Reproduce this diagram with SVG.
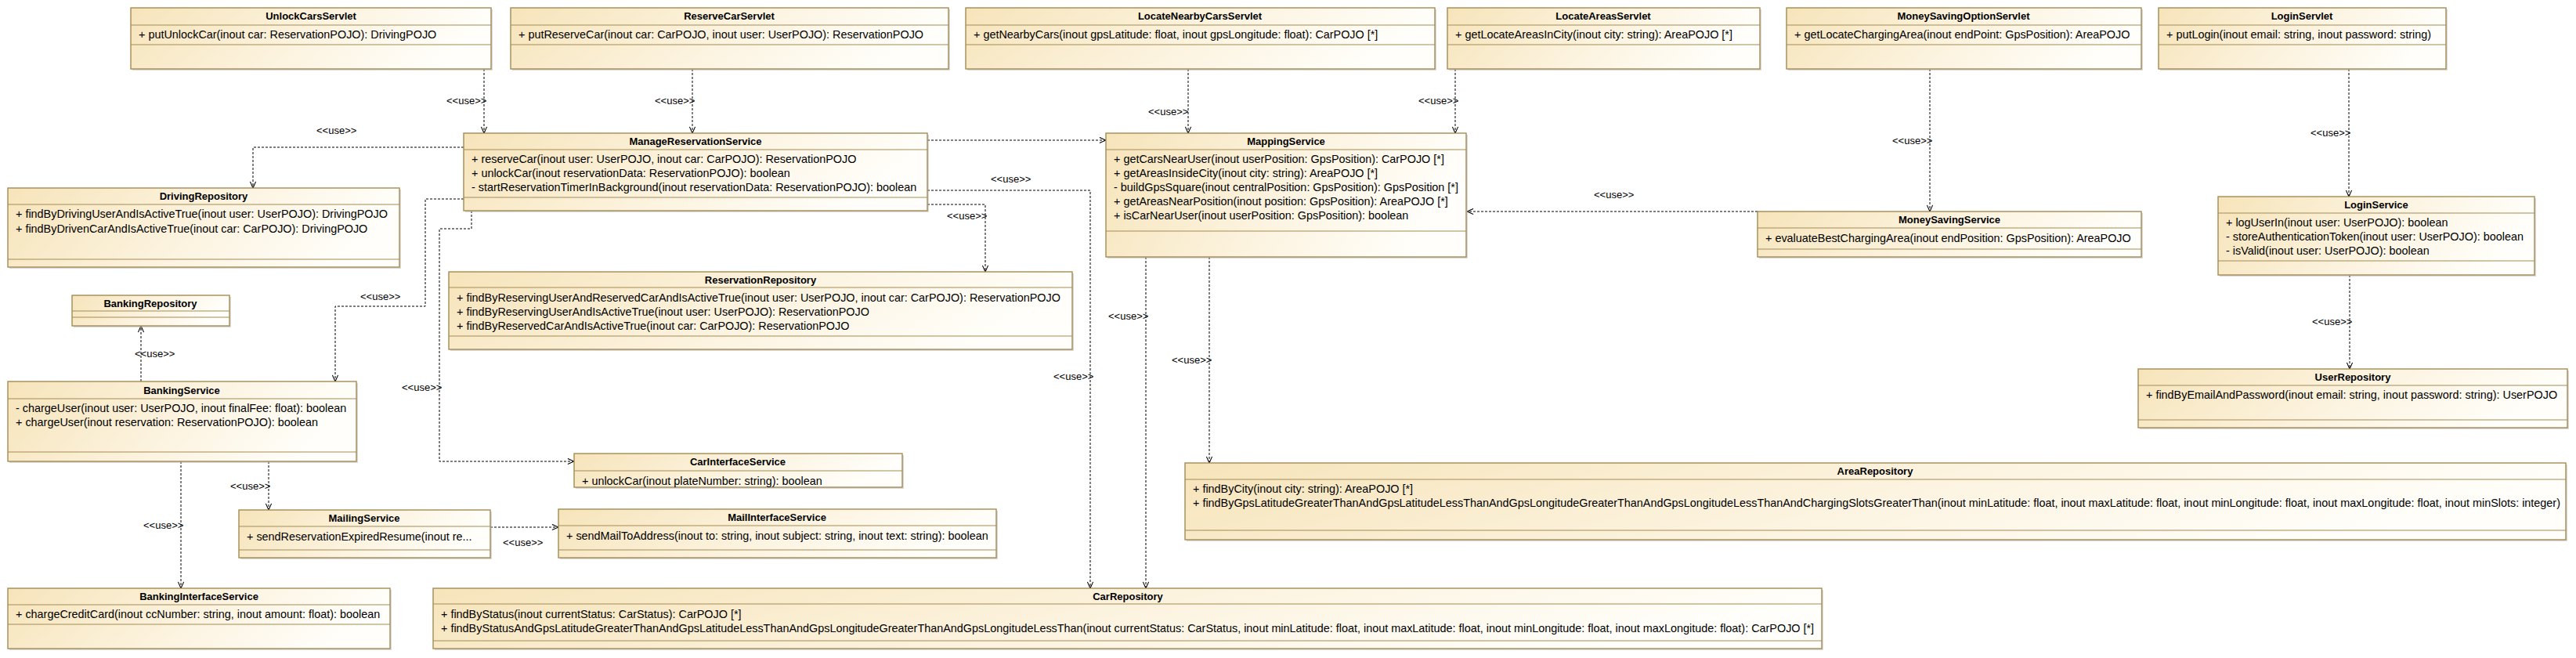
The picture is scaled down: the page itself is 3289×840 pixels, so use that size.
<svg xmlns="http://www.w3.org/2000/svg" width="3289" height="840" viewBox="0 0 3289 840">
<style>
.box{fill:url(#boxfill);stroke:#a38b55;stroke-width:1.4}
.sh{fill:#bdbdbd;opacity:0.55}
.dv{stroke:#a38b55;stroke-width:1.2}
.t{font-family:"Liberation Sans",Arial,sans-serif;font-size:13px;font-weight:bold;text-anchor:middle;fill:#000}
.m{font-family:"Liberation Sans",Arial,sans-serif;font-size:14.4px;fill:#000}
.l{font-family:"Liberation Sans",Arial,sans-serif;font-size:13px;fill:#000}
.c{fill:none;stroke:#000;stroke-width:1;stroke-dasharray:3,2;marker-end:url(#arr)}
</style>
<defs>
<linearGradient id="boxfill" x1="0" y1="0" x2="1" y2="0.2">
<stop offset="0" stop-color="#f6e4ba"/>
<stop offset="0.55" stop-color="#fcf3df"/>
<stop offset="1" stop-color="#fffefa"/>
</linearGradient>
<marker id="arr" viewBox="0 0 10 10" refX="10" refY="5" markerWidth="9" markerHeight="9" orient="auto" markerUnits="userSpaceOnUse">
<path d="M1,1 L10,5 L1,9" fill="none" stroke="#000" stroke-width="1.2"/>
</marker>
<clipPath id="cisclip"><rect x="733" y="579" width="419" height="43"/></clipPath>
</defs>
<rect width="3289" height="840" fill="#fff"/>

<g id="connectors">
<path class="c" d="M618,88 V170"/>
<text class="l" x="570" y="133">&lt;&lt;use&gt;&gt;</text>
<path class="c" d="M592,188 H323 V240"/>
<text class="l" x="404" y="171">&lt;&lt;use&gt;&gt;</text>
<path class="c" d="M884,88 V170"/>
<text class="l" x="836" y="133">&lt;&lt;use&gt;&gt;</text>
<path class="c" d="M1517,88 V170"/>
<text class="l" x="1466" y="147">&lt;&lt;use&gt;&gt;</text>
<path class="c" d="M1858,88 V170"/>
<text class="l" x="1811" y="133">&lt;&lt;use&gt;&gt;</text>
<path class="c" d="M2464,88 V270"/>
<text class="l" x="2416" y="184">&lt;&lt;use&gt;&gt;</text>
<path class="c" d="M2244,270 H1873"/>
<text class="l" x="2035" y="253">&lt;&lt;use&gt;&gt;</text>
<path class="c" d="M2999,88 V251"/>
<text class="l" x="2950" y="174">&lt;&lt;use&gt;&gt;</text>
<path class="c" d="M3000,351 V471"/>
<text class="l" x="2952" y="415">&lt;&lt;use&gt;&gt;</text>
<path class="c" d="M1184,179 H1412"/>
<text class="l" x="1265" y="233">&lt;&lt;use&gt;&gt;</text>
<path class="c" d="M1184,261 H1258 V347"/>
<text class="l" x="1209" y="280">&lt;&lt;use&gt;&gt;</text>
<path class="c" d="M1184,243 H1392 V751"/>
<text class="l" x="1345" y="485">&lt;&lt;use&gt;&gt;</text>
<path class="c" d="M1463,328 V751"/>
<text class="l" x="1415" y="408">&lt;&lt;use&gt;&gt;</text>
<path class="c" d="M1544,328 V591"/>
<text class="l" x="1496" y="464">&lt;&lt;use&gt;&gt;</text>
<path class="c" d="M592,254 H543 V391 H428 V487"/>
<text class="l" x="460" y="383">&lt;&lt;use&gt;&gt;</text>
<path class="c" d="M602,269 V292 H561 V589 H733"/>
<text class="l" x="513" y="499">&lt;&lt;use&gt;&gt;</text>
<path class="c" d="M180,487 V416"/>
<text class="l" x="172" y="456">&lt;&lt;use&gt;&gt;</text>
<path class="c" d="M343,589 V651"/>
<text class="l" x="294" y="625">&lt;&lt;use&gt;&gt;</text>
<path class="c" d="M231,589 V751"/>
<text class="l" x="183" y="675">&lt;&lt;use&gt;&gt;</text>
<path class="c" d="M626,673 H713"/>
<text class="l" x="642" y="697">&lt;&lt;use&gt;&gt;</text>
</g>

<g id="UnlockCarsServlet">
<rect class="sh" x="169" y="12" width="460" height="78"/>
<rect class="box" x="167" y="10" width="460" height="78"/>
<line class="dv" x1="167" y1="32" x2="627" y2="32"/>
<line class="dv" x1="167" y1="57" x2="627" y2="57"/>
<text class="t" x="397" y="25">UnlockCarsServlet</text>
<text class="m" x="177" y="49">+ putUnlockCar(inout car: ReservationPOJO): DrivingPOJO</text>
</g>

<g id="ReserveCarServlet">
<rect class="sh" x="654" y="12" width="559" height="78"/>
<rect class="box" x="652" y="10" width="559" height="78"/>
<line class="dv" x1="652" y1="32" x2="1211" y2="32"/>
<line class="dv" x1="652" y1="57" x2="1211" y2="57"/>
<text class="t" x="931" y="25">ReserveCarServlet</text>
<text class="m" x="662" y="49">+ putReserveCar(inout car: CarPOJO, inout user: UserPOJO): ReservationPOJO</text>
</g>

<g id="LocateNearbyCarsServlet">
<rect class="sh" x="1235" y="12" width="599" height="78"/>
<rect class="box" x="1233" y="10" width="599" height="78"/>
<line class="dv" x1="1233" y1="32" x2="1832" y2="32"/>
<line class="dv" x1="1233" y1="57" x2="1832" y2="57"/>
<text class="t" x="1532" y="25">LocateNearbyCarsServlet</text>
<text class="m" x="1243" y="49">+ getNearbyCars(inout gpsLatitude: float, inout gpsLongitude: float): CarPOJO [*]</text>
</g>

<g id="LocateAreasServlet">
<rect class="sh" x="1850" y="12" width="399" height="78"/>
<rect class="box" x="1848" y="10" width="399" height="78"/>
<line class="dv" x1="1848" y1="32" x2="2247" y2="32"/>
<line class="dv" x1="1848" y1="57" x2="2247" y2="57"/>
<text class="t" x="2047" y="25">LocateAreasServlet</text>
<text class="m" x="1858" y="49">+ getLocateAreasInCity(inout city: string): AreaPOJO [*]</text>
</g>

<g id="MoneySavingOptionServlet">
<rect class="sh" x="2283" y="12" width="453" height="78"/>
<rect class="box" x="2281" y="10" width="453" height="78"/>
<line class="dv" x1="2281" y1="32" x2="2734" y2="32"/>
<line class="dv" x1="2281" y1="57" x2="2734" y2="57"/>
<text class="t" x="2507" y="25">MoneySavingOptionServlet</text>
<text class="m" x="2291" y="49">+ getLocateChargingArea(inout endPoint: GpsPosition): AreaPOJO</text>
</g>

<g id="LoginServlet">
<rect class="sh" x="2758" y="12" width="367" height="78"/>
<rect class="box" x="2756" y="10" width="367" height="78"/>
<line class="dv" x1="2756" y1="32" x2="3123" y2="32"/>
<line class="dv" x1="2756" y1="57" x2="3123" y2="57"/>
<text class="t" x="2939" y="25">LoginServlet</text>
<text class="m" x="2766" y="49">+ putLogin(inout email: string, inout password: string)</text>
</g>

<g id="ManageReservationService">
<rect class="sh" x="594" y="172" width="592" height="99"/>
<rect class="box" x="592" y="170" width="592" height="99"/>
<line class="dv" x1="592" y1="191" x2="1184" y2="191"/>
<line class="dv" x1="592" y1="252" x2="1184" y2="252"/>
<text class="t" x="888" y="185">ManageReservationService</text>
<text class="m" x="602" y="208">+ reserveCar(inout user: UserPOJO, inout car: CarPOJO): ReservationPOJO</text>
<text class="m" x="602" y="226">+ unlockCar(inout reservationData: ReservationPOJO): boolean</text>
<text class="m" x="602" y="244">- startReservationTimerInBackground(inout reservationData: ReservationPOJO): boolean</text>
</g>

<g id="MappingService">
<rect class="sh" x="1414" y="172" width="460" height="158"/>
<rect class="box" x="1412" y="170" width="460" height="158"/>
<line class="dv" x1="1412" y1="191" x2="1872" y2="191"/>
<line class="dv" x1="1412" y1="295" x2="1872" y2="295"/>
<text class="t" x="1642" y="185">MappingService</text>
<text class="m" x="1422" y="208">+ getCarsNearUser(inout userPosition: GpsPosition): CarPOJO [*]</text>
<text class="m" x="1422" y="226">+ getAreasInsideCity(inout city: string): AreaPOJO [*]</text>
<text class="m" x="1422" y="244">- buildGpsSquare(inout centralPosition: GpsPosition): GpsPosition [*]</text>
<text class="m" x="1422" y="262">+ getAreasNearPosition(inout position: GpsPosition): AreaPOJO [*]</text>
<text class="m" x="1422" y="280">+ isCarNearUser(inout userPosition: GpsPosition): boolean</text>
</g>

<g id="MoneySavingService">
<rect class="sh" x="2246" y="272" width="490" height="58"/>
<rect class="box" x="2244" y="270" width="490" height="58"/>
<line class="dv" x1="2244" y1="291" x2="2734" y2="291"/>
<line class="dv" x1="2244" y1="318" x2="2734" y2="318"/>
<text class="t" x="2489" y="285">MoneySavingService</text>
<text class="m" x="2254" y="309">+ evaluateBestChargingArea(inout endPosition: GpsPosition): AreaPOJO</text>
</g>

<g id="LoginService">
<rect class="sh" x="2834" y="253" width="404" height="100"/>
<rect class="box" x="2832" y="251" width="404" height="100"/>
<line class="dv" x1="2832" y1="272" x2="3236" y2="272"/>
<line class="dv" x1="2832" y1="333" x2="3236" y2="333"/>
<text class="t" x="3034" y="266">LoginService</text>
<text class="m" x="2842" y="289">+ logUserIn(inout user: UserPOJO): boolean</text>
<text class="m" x="2842" y="307">- storeAuthenticationToken(inout user: UserPOJO): boolean</text>
<text class="m" x="2842" y="325">- isValid(inout user: UserPOJO): boolean</text>
</g>

<g id="DrivingRepository">
<rect class="sh" x="12" y="242" width="500" height="101"/>
<rect class="box" x="10" y="240" width="500" height="101"/>
<line class="dv" x1="10" y1="261" x2="510" y2="261"/>
<line class="dv" x1="10" y1="331" x2="510" y2="331"/>
<text class="t" x="260" y="255">DrivingRepository</text>
<text class="m" x="20" y="278">+ findByDrivingUserAndIsActiveTrue(inout user: UserPOJO): DrivingPOJO</text>
<text class="m" x="20" y="297">+ findByDrivenCarAndIsActiveTrue(inout car: CarPOJO): DrivingPOJO</text>
</g>

<g id="ReservationRepository">
<rect class="sh" x="575" y="349" width="796" height="99"/>
<rect class="box" x="573" y="347" width="796" height="99"/>
<line class="dv" x1="573" y1="367" x2="1369" y2="367"/>
<line class="dv" x1="573" y1="429" x2="1369" y2="429"/>
<text class="t" x="971" y="362">ReservationRepository</text>
<text class="m" x="583" y="385">+ findByReservingUserAndReservedCarAndIsActiveTrue(inout user: UserPOJO, inout car: CarPOJO): ReservationPOJO</text>
<text class="m" x="583" y="403">+ findByReservingUserAndIsActiveTrue(inout user: UserPOJO): ReservationPOJO</text>
<text class="m" x="583" y="421">+ findByReservedCarAndIsActiveTrue(inout car: CarPOJO): ReservationPOJO</text>
</g>

<g id="BankingRepository">
<rect class="sh" x="94" y="379" width="201" height="39"/>
<rect class="box" x="92" y="377" width="201" height="39"/>
<line class="dv" x1="92" y1="397" x2="293" y2="397"/>
<line class="dv" x1="92" y1="405" x2="293" y2="405"/>
<text class="t" x="192" y="392">BankingRepository</text>
</g>

<g id="BankingService">
<rect class="sh" x="12" y="489" width="445" height="102"/>
<rect class="box" x="10" y="487" width="445" height="102"/>
<line class="dv" x1="10" y1="509" x2="455" y2="509"/>
<line class="dv" x1="10" y1="577" x2="455" y2="577"/>
<text class="t" x="232" y="503">BankingService</text>
<text class="m" x="20" y="526">- chargeUser(inout user: UserPOJO, inout finalFee: float): boolean</text>
<text class="m" x="20" y="544">+ chargeUser(inout reservation: ReservationPOJO): boolean</text>
</g>

<g id="CarInterfaceService">
<rect class="sh" x="735" y="581" width="419" height="43"/>
<rect class="box" x="733" y="579" width="419" height="43"/>
<line class="dv" x1="733" y1="601" x2="1152" y2="601"/>
<text class="t" x="942" y="594">CarInterfaceService</text>
<text class="m" x="743" y="619" clip-path="url(#cisclip)">+ unlockCar(inout plateNumber: string): boolean</text>
</g>

<g id="MailingService">
<rect class="sh" x="307" y="653" width="321" height="61"/>
<rect class="box" x="305" y="651" width="321" height="61"/>
<line class="dv" x1="305" y1="672" x2="626" y2="672"/>
<line class="dv" x1="305" y1="702" x2="626" y2="702"/>
<text class="t" x="465" y="666">MailingService</text>
<text class="m" x="315" y="690">+ sendReservationExpiredResume(inout re...</text>
</g>

<g id="MailInterfaceService">
<rect class="sh" x="715" y="652" width="559" height="62"/>
<rect class="box" x="713" y="650" width="559" height="62"/>
<line class="dv" x1="713" y1="671" x2="1272" y2="671"/>
<line class="dv" x1="713" y1="702" x2="1272" y2="702"/>
<text class="t" x="992" y="665">MailInterfaceService</text>
<text class="m" x="723" y="689">+ sendMailToAddress(inout to: string, inout subject: string, inout text: string): boolean</text>
</g>

<g id="UserRepository">
<rect class="sh" x="2732" y="473" width="548" height="75"/>
<rect class="box" x="2730" y="471" width="548" height="75"/>
<line class="dv" x1="2730" y1="492" x2="3278" y2="492"/>
<line class="dv" x1="2730" y1="536" x2="3278" y2="536"/>
<text class="t" x="3004" y="486">UserRepository</text>
<text class="m" x="2740" y="509">+ findByEmailAndPassword(inout email: string, inout password: string): UserPOJO</text>
</g>

<g id="AreaRepository">
<rect class="sh" x="1515" y="593" width="1763" height="98"/>
<rect class="box" x="1513" y="591" width="1763" height="98"/>
<line class="dv" x1="1513" y1="612" x2="3276" y2="612"/>
<line class="dv" x1="1513" y1="677" x2="3276" y2="677"/>
<text class="t" x="2394" y="606">AreaRepository</text>
<text class="m" x="1523" y="629">+ findByCity(inout city: string): AreaPOJO [*]</text>
<text class="m" x="1523" y="647">+ findByGpsLatitudeGreaterThanAndGpsLatitudeLessThanAndGpsLongitudeGreaterThanAndGpsLongitudeLessThanAndChargingSlotsGreaterThan(inout minLatitude: float, inout maxLatitude: float, inout minLongitude: float, inout maxLongitude: float, inout minSlots: integer)</text>
</g>

<g id="BankingInterfaceService">
<rect class="sh" x="12" y="753" width="488" height="77"/>
<rect class="box" x="10" y="751" width="488" height="77"/>
<line class="dv" x1="10" y1="772" x2="498" y2="772"/>
<line class="dv" x1="10" y1="797" x2="498" y2="797"/>
<text class="t" x="254" y="766">BankingInterfaceService</text>
<text class="m" x="20" y="789">+ chargeCreditCard(inout ccNumber: string, inout amount: float): boolean</text>
</g>

<g id="CarRepository">
<rect class="sh" x="555" y="753" width="1773" height="77"/>
<rect class="box" x="553" y="751" width="1773" height="77"/>
<line class="dv" x1="553" y1="771" x2="2326" y2="771"/>
<line class="dv" x1="553" y1="818" x2="2326" y2="818"/>
<text class="t" x="1440" y="766">CarRepository</text>
<text class="m" x="563" y="789">+ findByStatus(inout currentStatus: CarStatus): CarPOJO [*]</text>
<text class="m" x="563" y="807">+ findByStatusAndGpsLatitudeGreaterThanAndGpsLatitudeLessThanAndGpsLongitudeGreaterThanAndGpsLongitudeLessThan(inout currentStatus: CarStatus, inout minLatitude: float, inout maxLatitude: float, inout minLongitude: float, inout maxLongitude: float): CarPOJO [*]</text>
</g>
</svg>
